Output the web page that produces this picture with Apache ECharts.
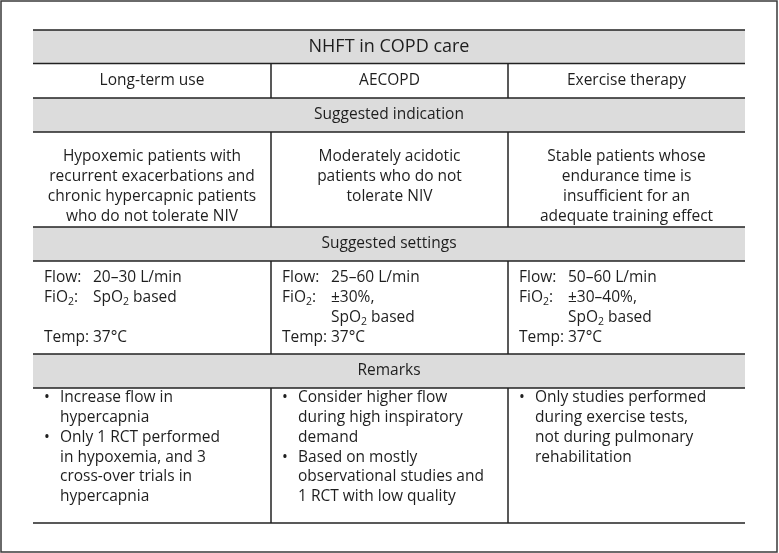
<!DOCTYPE html>
<html>
<head>
<meta charset="utf-8">
<script src="https://cdn.jsdelivr.net/npm/echarts@6/dist/echarts.min.js"></script>
<style>html,body{margin:0;padding:0;background:#fff}#c{width:779px;height:553px}</style>
</head>
<body>
<div id="c"></div>
<script>
// ---- content ----
var title = 'NHFT in COPD care';
var columns = ['Long-term use', 'AECOPD', 'Exercise therapy'];
var sections = ['Suggested indication', 'Suggested settings', 'Remarks'];
var indications = [
  ['Hypoxemic patients with', 'recurrent exacerbations and', 'chronic hypercapnic patients', 'who do not tolerate NIV'],
  ['Moderately acidotic', 'patients who do not', 'tolerate NIV'],
  ['Stable patients whose', 'endurance time is', 'insufficient for an', 'adequate training effect']
];
var settings = [
  ['20–30 L/min', 'SpO{s|2} based', '', '37°C'],
  ['25–60 L/min', '±30%,', 'SpO{s|2} based', '37°C'],
  ['50–60 L/min', '±30–40%,', 'SpO{s|2} based', '37°C']
];
var settingLabelRows = [
  ['Flow:', 'FiO{s|2}:', '', 'Temp:'],
  ['Flow:', 'FiO{s|2}:', '', 'Temp:'],
  ['Flow:', 'FiO{s|2}:', '', 'Temp:']
];
var remarks = [
  [['Increase flow in', 'hypercapnia'], ['Only 1 RCT performed', 'in hypoxemia, and 3', 'cross-over trials in', 'hypercapnia']],
  [['Consider higher flow', 'during high inspiratory', 'demand'], ['Based on mostly', 'observational studies and', '1 RCT with low quality']],
  [['Only studies performed', 'during exercise tests,', 'not during pulmonary', 'rehabilitation']]
];

// ---- layout ----
var FONT = '"Open Sans", "Noto Sans", sans-serif';
var FS = 15.5, TFS = 18, LH = 19.7;
var TXT = '#1e1e1e', LINE = '#222222', GRAY = '#dcdcdc';
var X0 = 33, X1 = 745;
var colX = [33, 271, 508, 745];
var rowY = [30, 63.5, 98, 132, 227, 261, 354, 388, 523];
var grayRows = [0, 2, 4, 6];
var richStyles = {
  t: {fontSize: FS, fontFamily: FONT, fill: TXT, lineHeight: 20},
  s: {fontSize: 10.5, fontFamily: FONT, fill: TXT, lineHeight: 12, padding: [9, 0, 0, 0]}
};

var els = [];
function txt(x, y, s, align, size) {
  var fs = size || FS;
  var rich = s.indexOf('{s|') >= 0;
  var t = rich ? s.split(/(\{s\|[^}]*\})/).map(function (p) {
    return p.indexOf('{s|') === 0 ? p : (p ? '{t|' + p + '}' : '');
  }).join('') : s;
  els.push({
    type: 'text', x: x, y: y, silent: true,
    style: {
      text: t, fill: TXT, font: fs + 'px ' + FONT,
      fontSize: fs, fontFamily: FONT,
      align: align || 'left', textAlign: align || 'left',
      verticalAlign: 'middle', textVerticalAlign: 'middle',
      rich: richStyles
    }
  });
}

// outer frame
els.push({type: 'rect', shape: {x: 1, y: 1, width: 776, height: 551}, style: {fill: '#fff', stroke: '#3a3a3a', lineWidth: 1.5}});
// gray bands
grayRows.forEach(function (r) {
  els.push({type: 'rect', shape: {x: X0, y: rowY[r], width: X1 - X0, height: rowY[r + 1] - rowY[r]}, style: {fill: GRAY}});
});
// horizontal rules
rowY.forEach(function (y) {
  els.push({type: 'line', shape: {x1: X0, y1: y, x2: X1, y2: y}, style: {stroke: LINE, lineWidth: 1.5}});
});
// vertical rules in column rows
[1, 3, 5, 7].forEach(function (r) {
  [1, 2].forEach(function (c) {
    els.push({type: 'line', shape: {x1: colX[c], y1: rowY[r], x2: colX[c], y2: rowY[r + 1]}, style: {stroke: LINE, lineWidth: 1.5}});
  });
});

// title
txt((X0 + X1) / 2, (rowY[0] + rowY[1]) / 2, title, 'center', TFS);
// column headers
columns.forEach(function (c, i) {
  txt((colX[i] + colX[i + 1]) / 2, (rowY[1] + rowY[2]) / 2, c, 'center');
});
// section headers
sections.forEach(function (s, i) {
  var r = grayRows[i + 1];
  txt((X0 + X1) / 2, (rowY[r] + rowY[r + 1]) / 2, s, 'center');
});
// indications
indications.forEach(function (lines, i) {
  lines.forEach(function (l, k) {
    txt((colX[i] + colX[i + 1]) / 2, rowY[3] + 25 + k * LH, l, 'center');
  });
});
// settings
settings.forEach(function (vals, i) {
  vals.forEach(function (v, k) {
    var y = rowY[5] + 16.5 + k * 20;
    if (settingLabelRows[i][k]) txt(colX[i] + 11, y, settingLabelRows[i][k], 'left');
    if (v) txt(colX[i] + 60, y, v, 'left');
  });
});
// remarks
remarks.forEach(function (items, i) {
  var k = 0;
  items.forEach(function (lines) {
    txt(colX[i] + 11, rowY[7] + 10 + k * LH, '•', 'left');
    lines.forEach(function (l) {
      txt(colX[i] + 27, rowY[7] + 10 + k * LH, l, 'left');
      k++;
    });
  });
});

var chart = echarts.init(document.getElementById('c'), null, {renderer: 'canvas'});
chart.setOption({
  animation: false,
  backgroundColor: '#fff',
  graphic: {elements: els}
});
</script>
</body>
</html>
